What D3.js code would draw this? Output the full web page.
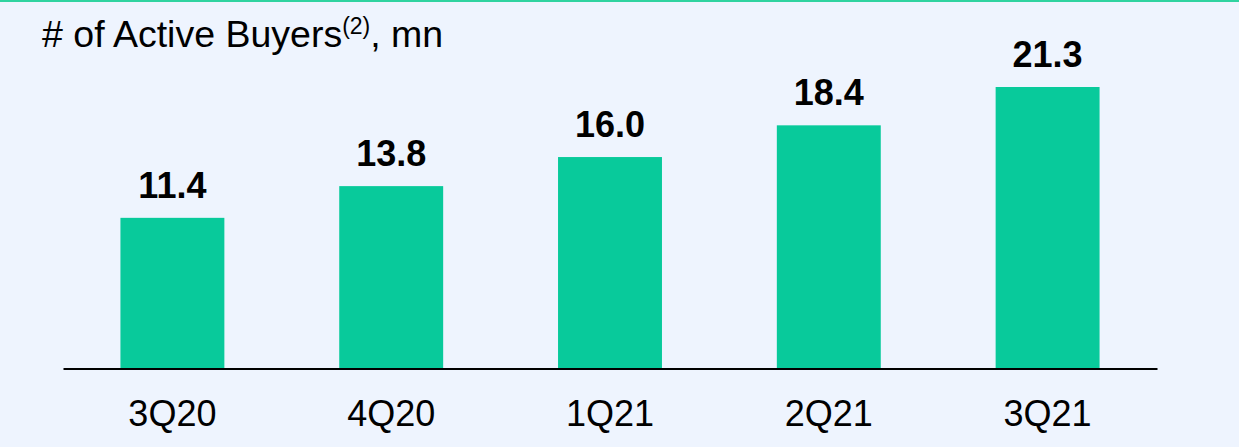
<!DOCTYPE html>
<html>
<head>
<meta charset="utf-8">
<script src="https://cdn.jsdelivr.net/npm/d3@7"></script>
<style>
  html, body { margin: 0; padding: 0; background: #EEF4FE; }
  svg { display: block; }
  text { font-family: "Liberation Sans", Arial, sans-serif; fill: #000; }
</style>
</head>
<body>
<svg id="chart" width="1239" height="447"></svg>
<script>
const categories = ["3Q20", "4Q20", "1Q21", "2Q21", "3Q21"];
const values = [11.4, 13.8, 16.0, 18.4, 21.3];
const valueLabels = ["11.4", "13.8", "16.0", "18.4", "21.3"];
const titleMain = "# of Active Buyers";
const titleSup = "(2)";
const titleTail = ", mn";

const svg = d3.select("#chart");
const W = 1239, H = 447;

svg.append("rect").attr("width", W).attr("height", H).attr("fill", "#EEF4FE");
svg.append("rect").attr("x", 0).attr("y", 0).attr("width", W).attr("height", 2).attr("fill", "#2FD3A0");

const baseline = 368.5;
const x = d3.scaleBand().domain(categories).range([63, 1157]).paddingInner(0.525).paddingOuter(0.2625);
const y = d3.scaleLinear().domain([0, 21.3]).range([baseline, 87]);

svg.selectAll("rect.bar").data(values).enter().append("rect")
  .attr("class", "bar")
  .attr("x", (d, i) => x(categories[i]))
  .attr("y", d => y(d))
  .attr("width", x.bandwidth())
  .attr("height", d => baseline - y(d))
  .attr("fill", "#08CA9B");

svg.selectAll("text.val").data(values).enter().append("text")
  .attr("class", "val")
  .attr("x", (d, i) => x(categories[i]) + x.bandwidth() / 2)
  .attr("y", d => y(d) - 20)
  .attr("text-anchor", "middle")
  .attr("font-size", 36)
  .attr("font-weight", "bold")
  .text((d, i) => valueLabels[i]);

const xAxis = d3.axisBottom(x).tickSize(0).tickPadding(0);
const gx = svg.append("g").attr("transform", `translate(0,${baseline})`).call(xAxis);
gx.select(".domain").attr("stroke", "#000").attr("stroke-width", 2);
gx.selectAll(".tick text")
  .attr("dy", null)
  .attr("y", 57)
  .attr("font-size", 36)
  .attr("font-family", "Liberation Sans, Arial, sans-serif")
  .attr("fill", "#000");

const title = svg.append("text").attr("x", 42).attr("y", 47).attr("font-size", 37.5);
title.append("tspan").text(titleMain);
title.append("tspan").attr("font-size", 23).attr("dy", -13).text(titleSup);
title.append("tspan").attr("dy", 13).text(titleTail);
</script>
</body>
</html>
